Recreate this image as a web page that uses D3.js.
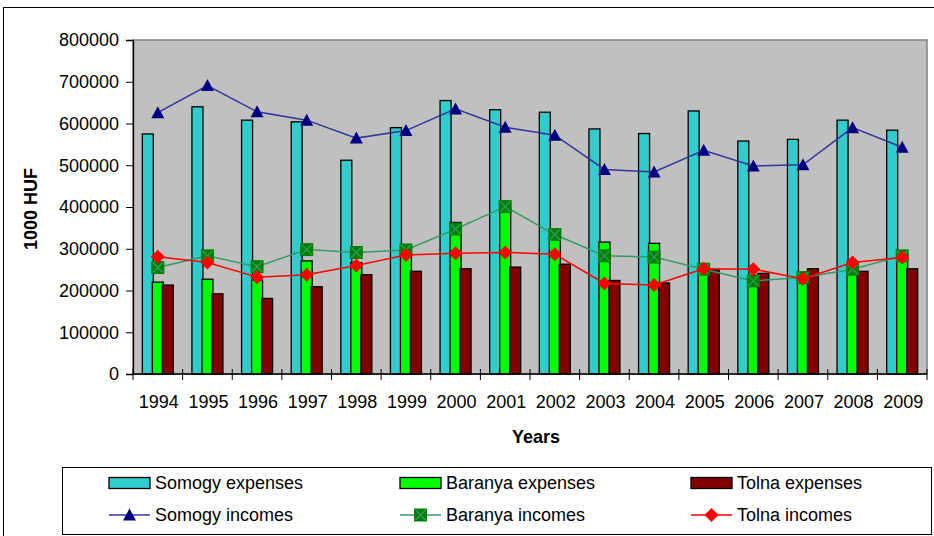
<!DOCTYPE html>
<html><head><meta charset="utf-8">
<script src="https://cdn.jsdelivr.net/npm/d3@7"></script>
<style>body{margin:0;background:#fff}svg{display:block}text{font-family:"Liberation Sans",Arial,sans-serif;fill:#000}</style>
</head><body><svg id="c" width="934" height="536"></svg>
<script>
const years = ["1994","1995","1996","1997","1998","1999","2000","2001","2002","2003","2004","2005","2006","2007","2008","2009"];
const yTicks = [0,100000,200000,300000,400000,500000,600000,700000,800000];
const somogyExp = [575000,640000,608000,604000,512000,590000,655000,633000,627000,587000,576000,630000,558000,562000,608000,584000];
const baranyaExp = [220000,227000,225000,271000,267000,295000,363000,398000,325000,316000,313000,250000,222000,230000,255000,285000];
const tolnaExp = [213000,192000,181000,209000,238000,246000,252000,256000,263000,224000,218000,249000,241000,252000,246000,252000];
const somogyInc = [626000,691000,628000,608000,565000,583000,635000,591000,572000,490000,484000,536000,498000,501000,590000,543000];
const baranyaInc = [255000,283000,257000,298000,291000,297000,347000,401000,334000,283000,280000,251000,223000,231000,251000,283000];
const tolnaInc = [281000,267000,232000,238000,260000,285000,289000,291000,287000,217000,213000,252000,251000,228000,267000,279000];

const svg = d3.select("#c");
const L=133,R=927,T=40,B=374;
const x = d3.scaleBand().domain(years).range([L,R]).padding(0);
const y = d3.scaleLinear().domain([0,800000]).range([B,T]);

// outer frame
svg.append("rect").attr("x",3.5).attr("y",7.5).attr("width",960).attr("height",560).attr("fill","none").attr("stroke","#000");

// plot area
svg.append("rect").attr("x",L).attr("y",T).attr("width",R-L).attr("height",B-T).attr("fill","#c0c0c0").attr("stroke","#808080").attr("stroke-width",1.5);

// bars
const bars = [
  {name:"Somogy expenses", vals:somogyExp, color:"#33cccc", off:-10},
  {name:"Baranya expenses", vals:baranyaExp, color:"#00ff00", off:0},
  {name:"Tolna expenses", vals:tolnaExp, color:"#800000", off:10}
];
const bw = 11;
bars.forEach(s=>{
  svg.append("g").selectAll("rect").data(s.vals).join("rect")
    .attr("x",(d,i)=>x(years[i])+x.bandwidth()/2+s.off-bw/2)
    .attr("y",d=>y(d)).attr("width",bw).attr("height",d=>B-y(d))
    .attr("fill",s.color).attr("stroke","#000").attr("stroke-width",1.3);
});

// axes
const yAxis = svg.append("g").attr("transform",`translate(${L},0)`).call(d3.axisLeft(y).tickValues(yTicks).tickFormat(d3.format("d")).tickSize(7).tickPadding(7));
yAxis.select(".domain").attr("stroke","#000").attr("stroke-width",1.3);
yAxis.selectAll("text").attr("font-size",18).attr("font-family","Liberation Sans, Arial");
const xAxisG = svg.append("g");
xAxisG.append("line").attr("x1",L).attr("x2",R).attr("y1",B).attr("y2",B).attr("stroke","#000").attr("stroke-width",1.3);
const bounds = years.map((d)=>x(d)).concat([R]);
xAxisG.selectAll("line.t").data(bounds).join("line").attr("class","t")
  .attr("x1",d=>d).attr("x2",d=>d).attr("y1",B-5).attr("y2",B+6).attr("stroke","#000");
xAxisG.selectAll("text").data(years).join("text")
  .attr("x",d=>x(d)+x.bandwidth()/2+1).attr("y",408).attr("text-anchor","middle").attr("font-size",18).text(d=>d);

svg.append("text").attr("x",536).attr("y",443).attr("text-anchor","middle").attr("font-size",18).attr("font-weight","bold").text("Years");
svg.append("text").attr("transform","translate(37,209) rotate(-90)").attr("text-anchor","middle").attr("font-size",18).attr("font-weight","bold").text("1000 HUF");

// markers
function drawMarker(g,type,cx,cy){
  if(type==="tri"){
    g.append("path").attr("d",`M${cx},${cy-6.5}L${cx+6.5},${cy+5.5}L${cx-6.5},${cy+5.5}Z`).attr("fill","#000080");
  } else if(type==="sq"){
    g.append("rect").attr("x",cx-6.5).attr("y",cy-6.5).attr("width",13).attr("height",13).attr("fill","#008000");
    g.append("path").attr("d",`M${cx-5},${cy-5}L${cx+5},${cy+5}M${cx+5},${cy-5}L${cx-5},${cy+5}`).attr("stroke","#339966").attr("stroke-width",1.3);
  } else {
    g.append("path").attr("d",`M${cx},${cy-7}L${cx+7},${cy}L${cx},${cy+7}L${cx-7},${cy}Z`).attr("fill","#ff0000");
  }
}
const lines = [
  {name:"Somogy incomes", vals:somogyInc, color:"#333399", type:"tri"},
  {name:"Baranya incomes", vals:baranyaInc, color:"#339966", type:"sq"},
  {name:"Tolna incomes", vals:tolnaInc, color:"#ff0000", type:"dia"}
];
const lineGen = d3.line().x((d,i)=>x(years[i])+x.bandwidth()/2).y(d=>y(d));
lines.forEach(s=>{
  const g = svg.append("g");
  g.append("path").datum(s.vals).attr("d",lineGen).attr("fill","none").attr("stroke",s.color).attr("stroke-width",1.5);
  s.vals.forEach((v,i)=>drawMarker(g,s.type,x(years[i])+x.bandwidth()/2,y(v)));
});

// legend
svg.append("rect").attr("x",62.5).attr("y",467.5).attr("width",869).attr("height",67).attr("fill","#fff").attr("stroke","#000");
const colX = [109,400,691];
bars.forEach((s,i)=>{
  svg.append("rect").attr("x",colX[i]).attr("y",477.5).attr("width",41).attr("height",11).attr("fill",s.color).attr("stroke","#000").attr("stroke-width",1.3);
  svg.append("text").attr("x",colX[i]+46).attr("y",489).attr("font-size",18).text(s.name);
});
lines.forEach((s,i)=>{
  const g = svg.append("g");
  g.append("line").attr("x1",colX[i]).attr("x2",colX[i]+41).attr("y1",515).attr("y2",515).attr("stroke",s.color).attr("stroke-width",1.5);
  drawMarker(g,s.type,colX[i]+20.5,515);
  svg.append("text").attr("x",colX[i]+46).attr("y",521).attr("font-size",18).text(s.name);
});
</script></body></html>
